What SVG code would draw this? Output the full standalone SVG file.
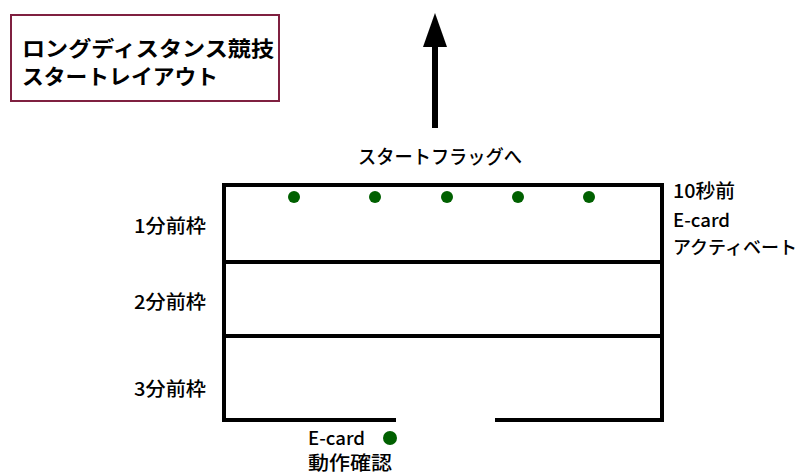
<svg xmlns="http://www.w3.org/2000/svg" width="800" height="474" viewBox="0 0 800 474">
<defs>
<style>
text{font-family:"Noto Sans CJK JP","Noto Sans",sans-serif;fill:#000}
.t{font-size:21px;font-weight:bold}
.l{font-size:19px;font-weight:500}
.r{font-size:18px;font-weight:500}
.ln{stroke:#000;stroke-width:4;fill:none;stroke-linecap:square}
.dot{fill:#006000}
</style>
</defs>
<rect width="800" height="474" fill="#fff"/>
<g id="title">
<rect x="11" y="15" width="268" height="86" fill="#fff" stroke="#7f2040" stroke-width="2"/>
<text class="t" x="22" y="56" textLength="252" lengthAdjust="spacingAndGlyphs">ロングディスタンス競技</text>
<text class="t" x="22" y="84" textLength="196" lengthAdjust="spacingAndGlyphs">スタートレイアウト</text>
</g>
<g id="connectors">
<line x1="435" y1="128" x2="435" y2="44" stroke="#000" stroke-width="6"/>
<polygon points="435,13 447,47 423,47" fill="#000"/>
</g>
<g id="flag-label">
<text class="l" x="440" y="164" text-anchor="middle" textLength="164" lengthAdjust="spacingAndGlyphs">スタートフラッグへ</text>
</g>
<g id="start-area">
<path class="ln" d="M394 420 H224 V185 H662 V420 H497"/>
<line class="ln" x1="224" y1="262" x2="662" y2="262"/>
<line class="ln" x1="224" y1="336" x2="662" y2="336"/>
</g>
<g id="frame-1">
<text class="l" x="206" y="233" text-anchor="end" textLength="72" lengthAdjust="spacingAndGlyphs">1分前枠</text>
<circle class="dot" cx="294" cy="197" r="6"/>
<circle class="dot" cx="375" cy="197" r="6"/>
<circle class="dot" cx="447" cy="197" r="6"/>
<circle class="dot" cx="518" cy="197" r="6"/>
<circle class="dot" cx="589" cy="197" r="6"/>
</g>
<g id="frame-2">
<text class="l" x="206" y="309" text-anchor="end" textLength="72" lengthAdjust="spacingAndGlyphs">2分前枠</text>
</g>
<g id="frame-3">
<text class="l" x="206" y="396" text-anchor="end" textLength="72" lengthAdjust="spacingAndGlyphs">3分前枠</text>
</g>
<g id="activate-label">
<text class="l" x="673" y="198" textLength="62" lengthAdjust="spacingAndGlyphs">10秒前</text>
<text class="r" x="673" y="227" textLength="57" lengthAdjust="spacingAndGlyphs">E-card</text>
<text class="r" x="673" y="254" textLength="124" lengthAdjust="spacingAndGlyphs">アクティベート</text>
</g>
<g id="check">
<text class="r" x="308" y="445" textLength="57" lengthAdjust="spacingAndGlyphs">E-card</text>
<circle class="dot" cx="390" cy="438" r="7"/>
<text class="l" x="308" y="470" textLength="84" lengthAdjust="spacingAndGlyphs">動作確認</text>
</g>
</svg>
